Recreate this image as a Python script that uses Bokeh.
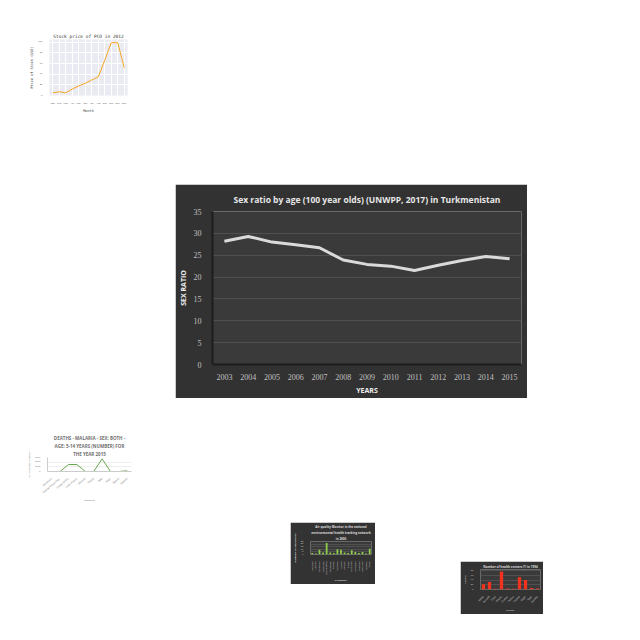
from bokeh.plotting import figure
from bokeh.models import Range1d, FixedTicker, FactorRange, Spacer, Title
from bokeh.layouts import column, row
from bokeh.embed import file_html
from bokeh.resources import INLINE

# ---------------- data ----------------
years = [2003, 2004, 2005, 2006, 2007, 2008, 2009, 2010, 2011, 2012, 2013, 2014, 2015]
sex_ratio = [28.2, 29.3, 28.0, 27.4, 26.7, 23.9, 22.9, 22.5, 21.5, 22.7, 23.8, 24.7, 24.2]
y_ticks = [0, 5, 10, 15, 20, 25, 30, 35]

months = ["Jan", "Feb", "Mar", "Apr", "May", "Jun", "Jul", "Aug", "Sep", "Oct", "Nov", "Dec"]
stock_price = [5, 7, 5, 12, 18, 23, 29, 35, 66, 99, 99, 52]

malaria_countries = ["Cameroon", "Central African Rep.", "Congo (DRC)", "Cote d'Ivoire", "Ethiopia",
                     "Ghana", "Mali", "Niger", "Nigeria", "Uganda"]
malaria_deaths = [0, 0, 1500, 1500, 0, 0, 2700, 0, 0, 150]

air_countries = ["Alabama", "Arizona", "California", "Colorado", "Connecticut", "Delaware", "Florida",
                 "Georgia", "Illinois", "Kansas", "Maine", "Maryland", "Michigan", "Missouri",
                 "New York", "Oregon", "Texas"]
air_values = [3, 2, 9, 4, 22, 4, 3, 10, 9, 4, 3, 8, 5, 3, 5, 2, 11]

health_countries = ["Benin", "Burundi", "Chad", "Ghana", "Guinea", "Kenya", "Malawi", "Niger", "Togo", "Zambia"]
health_values = [22, 32, 3, 77, 4, 3, 52, 40, 6, 4]


def add_titles(fig, lines, size, color, style="bold", font="Open Sans"):
    # lines listed top to bottom; the figure's own title sits outermost (top),
    # extra titles stack from the frame outward in the order they are added
    fig.title.text = lines[0]
    fig.title.align = "center"
    fig.title.text_font = font
    fig.title.text_font_size = size
    fig.title.text_color = color
    fig.title.text_font_style = style
    fig.title.standoff = 0
    fig.title.offset = 0
    for i, line in enumerate(reversed(lines[1:])):
        fig.add_layout(Title(text=line, align="center", text_font=font, text_font_size=size,
                             text_color=color, text_font_style=style,
                             standoff=1 if i == 0 else 0), "above")


# ---------------- main chart ----------------
p = figure(width=352, height=214, x_range=Range1d(2002.5, 2015.5), y_range=Range1d(0, 35),
           output_backend="svg", toolbar_location=None,
           min_border_left=33, min_border_right=6, min_border_top=27, min_border_bottom=34,
           background_fill_color="#3a3a3a", border_fill_color="#323232", outline_line_color=None)
p.title.text = "Sex ratio by age (100 year olds) (UNWPP, 2017) in Turkmenistan"
p.title.align = "center"
p.title.text_color = "#e8e8e8"
p.title.text_font = "Open Sans"
p.title.text_font_size = "8.5px"
p.title.text_font_style = "bold"
p.title.standoff = 14

p.line(years, sex_ratio, line_color="#dadada", line_width=3)

p.xaxis.ticker = FixedTicker(ticks=years)
p.yaxis.ticker = FixedTicker(ticks=y_ticks)
for ax in (p.xaxis[0], p.yaxis[0]):
    ax.major_tick_line_color = None
    ax.minor_tick_line_color = None
    ax.major_label_text_color = "#c0c0c0"
    ax.major_label_text_font = "Liberation Serif"
    ax.major_label_text_font_size = "8px"
    ax.axis_line_color = "#1c1c1c"
    ax.axis_line_width = 2
    ax.axis_label_text_color = "#eeeeee"
    ax.axis_label_text_font = "Open Sans"
    ax.axis_label_text_font_size = "7px"
    ax.axis_label_text_font_style = "bold"
p.xaxis.axis_label = "YEARS"
p.yaxis.axis_label = "SEX RATIO"
p.xaxis.major_label_standoff = 3
p.yaxis.major_label_standoff = 5
p.xaxis.axis_label_standoff = 3
p.yaxis.axis_label_standoff = 3
p.xgrid.grid_line_color = None
p.ygrid.grid_line_color = "#505050"
p.ygrid.grid_line_width = 1

# ---------------- thumbnail 1: stock price ----------------
f1 = figure(width=108, height=86, x_range=FactorRange(*months), y_range=Range1d(0, 105),
            output_backend="svg", toolbar_location=None,
            min_border_left=8, min_border_right=8, min_border_top=8, min_border_bottom=14,
            background_fill_color="#eaeaf2", border_fill_color="white", outline_line_color=None)
f1.title.text = "Stock price of PCO in 2012"
f1.title.align = "center"
f1.title.text_font = "DejaVu Sans Mono"
f1.title.text_font_size = "4.5px"
f1.title.text_font_style = "normal"
f1.title.text_color = "#333333"
f1.title.standoff = 2
f1.line(months, stock_price, line_color="#f5a623", line_width=1)
f1.xgrid.grid_line_color = "white"
f1.ygrid.grid_line_color = "white"
f1.xaxis.axis_label = "Month"
f1.yaxis.axis_label = "Price of Stock (USD)"
for ax in (f1.xaxis[0], f1.yaxis[0]):
    ax.major_label_text_font_size = "2.5px"
    ax.major_label_text_color = "#555555"
    ax.axis_label_text_font = "DejaVu Sans Mono"
    ax.axis_label_text_font_size = "3.5px"
    ax.axis_label_text_font_style = "normal"
    ax.axis_label_text_color = "#333333"
    ax.axis_line_color = None
    ax.major_tick_line_color = None
    ax.minor_tick_line_color = None
    ax.major_label_standoff = 1
    ax.axis_label_standoff = 1

# ---------------- thumbnail 3: malaria ----------------
f3 = figure(width=112, height=72, x_range=FactorRange(*malaria_countries), y_range=Range1d(0, 3000),
            output_backend="svg", toolbar_location=None,
            min_border_left=8, min_border_right=6, min_border_top=24, min_border_bottom=20,
            background_fill_color="white", border_fill_color="white", outline_line_color=None)
add_titles(f3, ["DEATHS - MALARIA - SEX: BOTH -", "AGE: 5-14 YEARS (NUMBER) FOR", "THE YEAR 2015"],
           "4.5px", "#6f6f6f")
f3.line(malaria_countries, malaria_deaths, line_color="#6aa84f", line_width=1)
f3.xgrid.grid_line_color = None
f3.ygrid.grid_line_color = "#eeeeee"
f3.xaxis.axis_label = "Countries"
f3.yaxis.axis_label = "No. of deaths (Number)"
f3.xaxis.major_label_orientation = 0.7
f3.yaxis.ticker = FixedTicker(ticks=[0, 1000, 2000, 3000])
for ax in (f3.xaxis[0], f3.yaxis[0]):
    ax.major_label_text_font_size = "2.5px"
    ax.major_label_text_color = "#777777"
    ax.axis_label_text_font_size = "2.5px"
    ax.axis_label_text_font_style = "normal"
    ax.axis_label_text_color = "#777777"
    ax.axis_line_color = "#cccccc"
    ax.major_tick_line_color = None
    ax.minor_tick_line_color = None
    ax.major_label_standoff = 1
    ax.axis_label_standoff = 1

# ---------------- thumbnail 4: air quality ----------------
f4 = figure(width=85, height=62, x_range=FactorRange(*air_countries), y_range=Range1d(0, 25),
            output_backend="svg", toolbar_location=None,
            min_border_left=14, min_border_right=4, min_border_top=14, min_border_bottom=16,
            background_fill_color="#3a3a3a", border_fill_color="#333333", outline_line_color=None)
add_titles(f4, ["Air quality Monitor in the national", "environmental health tracking network", "in 2000"],
           "3px", "#dddddd")
f4.vbar(x=air_countries, top=air_values, width=0.5, fill_color="#8fce4a", line_color=None)
f4.xgrid.grid_line_color = None
f4.ygrid.grid_line_color = "#505050"
f4.xaxis.axis_label = "COUNTRY"
f4.yaxis.axis_label = "NUMBER OF MONITORS"
f4.xaxis.major_label_orientation = 1.5708
for ax in (f4.xaxis[0], f4.yaxis[0]):
    ax.major_label_text_font_size = "2.5px"
    ax.major_label_text_color = "#cccccc"
    ax.axis_label_text_font_size = "2.5px"
    ax.axis_label_text_font_style = "bold"
    ax.axis_label_text_color = "#dddddd"
    ax.axis_line_color = None
    ax.major_tick_line_color = None
    ax.minor_tick_line_color = None
    ax.major_label_standoff = 1
    ax.axis_label_standoff = 1

# ---------------- thumbnail 5: health centres ----------------
f5 = figure(width=83, height=53, x_range=FactorRange(*health_countries), y_range=Range1d(0, 85),
            output_backend="svg", toolbar_location=None,
            min_border_left=12, min_border_right=3, min_border_top=8, min_border_bottom=14,
            background_fill_color="#3a3a3a", border_fill_color="#333333", outline_line_color=None)
f5.title.text = "Number of health centers (?) in 1994"
f5.title.align = "center"
f5.title.text_font = "Open Sans"
f5.title.text_font_size = "3px"
f5.title.text_color = "#dddddd"
f5.title.standoff = 1
f5.vbar(x=health_countries, top=health_values, width=0.55, fill_color="#f0321e", line_color=None)
f5.xgrid.grid_line_color = None
f5.ygrid.grid_line_color = "#505050"
f5.xaxis.axis_label = "Country"
f5.yaxis.axis_label = "Number"
f5.xaxis.major_label_orientation = 0.8
for ax in (f5.xaxis[0], f5.yaxis[0]):
    ax.major_label_text_font_size = "2.5px"
    ax.major_label_text_color = "#cccccc"
    ax.axis_label_text_font_size = "2.5px"
    ax.axis_label_text_font_style = "normal"
    ax.axis_label_text_color = "#dddddd"
    ax.axis_line_color = None
    ax.major_tick_line_color = None
    ax.minor_tick_line_color = None
    ax.major_label_standoff = 1
    ax.axis_label_standoff = 1

# ---------------- page layout ----------------
layout = column(
    Spacer(height=30),
    row(Spacer(width=27), f1),
    Spacer(height=68),
    row(Spacer(width=175), p),
    Spacer(height=34),
    row(Spacer(width=25), f3),
    Spacer(height=18),
    row(Spacer(width=290), f4, Spacer(width=85), column(Spacer(height=39), f5)),
)

open("out.html", "w").write(file_html(layout, INLINE))
